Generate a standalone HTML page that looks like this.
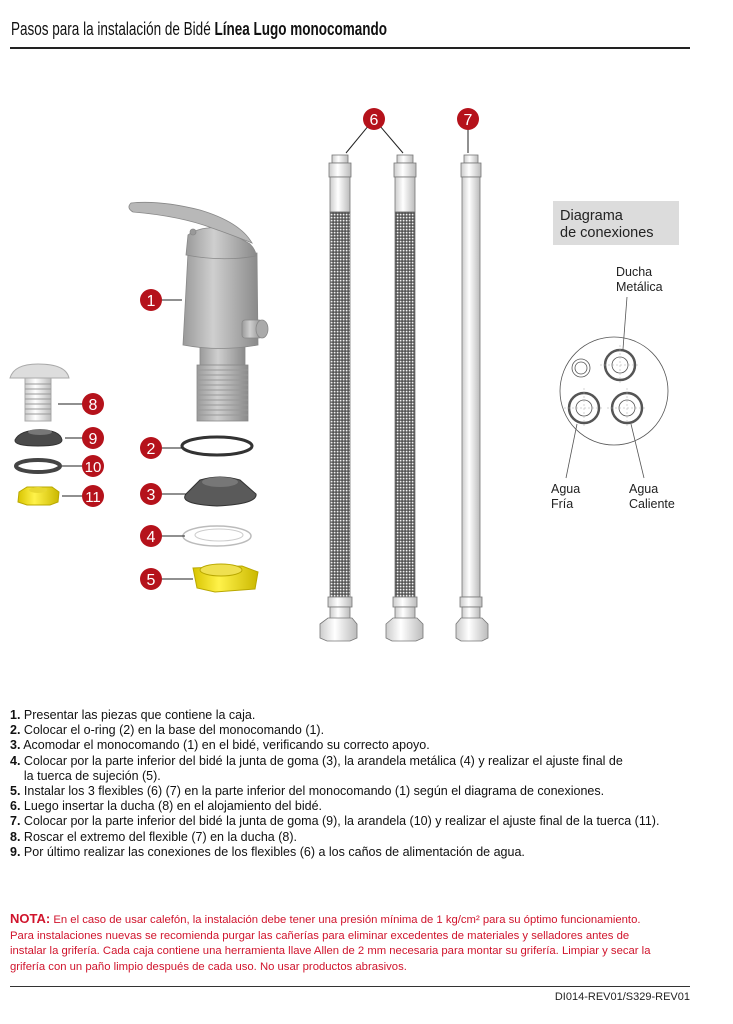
<!DOCTYPE html>
<html><head><meta charset="utf-8"><style>
body{margin:0;width:733px;height:1024px;background:#fff;position:relative;overflow:hidden;font-family:"Liberation Sans",Arial,sans-serif;}
.t{position:absolute;white-space:nowrap;}
#title{left:11px;top:18px;font-size:18.5px;color:#111;transform:scaleX(0.73);transform-origin:0 0}
.hr{position:absolute;left:10px;width:680px;background:#222}
#steps{position:absolute;left:10px;top:708px;font-size:12.5px;line-height:15.2px;color:#111;}
#steps div{white-space:nowrap}
#nota{position:absolute;left:10px;top:911px;font-size:11.3px;line-height:15.5px;color:#d0142c;white-space:nowrap}
#foot{position:absolute;right:43px;top:991px;font-size:11px;color:#222}
svg{position:absolute;left:0;top:0}
</style></head><body>
<div class="t" id="title">Pasos para la instalación de Bidé <b>Línea Lugo monocomando</b></div>
<div class="hr" style="top:47px;height:2px"></div>

<svg width="733" height="700" viewBox="0 0 733 700">
<defs>
<pattern id="mesh" width="3" height="3" patternUnits="userSpaceOnUse">
<rect width="3" height="3" fill="#444"/><rect x="0.7" y="0.7" width="1.8" height="1.8" fill="#f2f2f2"/></pattern>
<linearGradient id="g1" x1="0" x2="1"><stop offset="0" stop-color="#9a9a9a"/><stop offset=".4" stop-color="#cfcfcf"/><stop offset="1" stop-color="#8a8a8a"/></linearGradient>
<linearGradient id="gw" x1="0" x2="1"><stop offset="0" stop-color="#ccc"/><stop offset=".4" stop-color="#fff"/><stop offset="1" stop-color="#bbb"/></linearGradient>
<linearGradient id="gy" x1="0" x2="1"><stop offset="0" stop-color="#d8c400"/><stop offset=".4" stop-color="#fff24a"/><stop offset="1" stop-color="#cbb800"/></linearGradient>
</defs>

<g stroke="#777" stroke-width="0.8">
 <rect x="332" y="155" width="16" height="8" fill="url(#gw)"/>
 <rect x="329" y="163" width="22" height="14" fill="url(#gw)"/>
 <rect x="330" y="177" width="20" height="35" fill="url(#gw)"/>
 <rect x="330" y="212" width="20" height="386" fill="url(#mesh)"/>
 <rect x="328" y="597" width="24" height="10" fill="url(#gw)"/>
 <rect x="330" y="607" width="20" height="12" fill="url(#gw)"/>
 <polygon points="320,624 328,618 352,618 357,624 357,638 350,641 327,641 320,638" fill="url(#gw)"/>
 <rect x="397" y="155" width="16" height="8" fill="url(#gw)"/>
 <rect x="394" y="163" width="22" height="14" fill="url(#gw)"/>
 <rect x="395" y="177" width="20" height="35" fill="url(#gw)"/>
 <rect x="395" y="212" width="20" height="386" fill="url(#mesh)"/>
 <rect x="393" y="597" width="24" height="10" fill="url(#gw)"/>
 <rect x="395" y="607" width="20" height="12" fill="url(#gw)"/>
 <polygon points="386,624 393,618 417,618 423,624 423,638 416,641 392,641 386,638" fill="url(#gw)"/>
 <rect x="464" y="155" width="14" height="8" fill="url(#gw)"/>
 <rect x="461" y="163" width="20" height="14" fill="url(#gw)"/>
 <rect x="462" y="177" width="18" height="420" fill="url(#gw)"/>
 <rect x="460" y="597" width="22" height="10" fill="url(#gw)"/>
 <rect x="462" y="607" width="18" height="12" fill="url(#gw)"/>
 <polygon points="456,624 461,618 482,618 488,624 488,638 482,641 461,641 456,638" fill="url(#gw)"/>
</g>

<g stroke="#888" stroke-width="0.8">
 <rect x="200" y="345" width="45" height="22" fill="url(#g1)"/>
 <rect x="197" y="365" width="51" height="56" fill="url(#g1)"/>
 <g stroke="#999" stroke-width="1">
  <line x1="197" y1="370" x2="248" y2="370"/><line x1="197" y1="375" x2="248" y2="375"/><line x1="197" y1="380" x2="248" y2="380"/><line x1="197" y1="385" x2="248" y2="385"/><line x1="197" y1="390" x2="248" y2="390"/><line x1="197" y1="395" x2="248" y2="395"/><line x1="197" y1="400" x2="248" y2="400"/><line x1="197" y1="405" x2="248" y2="405"/><line x1="197" y1="410" x2="248" y2="410"/><line x1="197" y1="415" x2="248" y2="415"/>
 </g>
 <path d="M188,253 L257,253 L258,345 Q220,352 183,345 Z" fill="url(#g1)"/>
 <rect x="242" y="320" width="20" height="18" rx="3" fill="url(#g1)"/>
 <ellipse cx="262" cy="329" rx="6" ry="9" fill="#aaa"/>
 <path d="M186,255 L188,235 Q200,226 222,228 L250,244 Q256,250 256,256 Q222,262 186,255 Z" fill="url(#g1)"/>
 <path d="M131,203 Q160,200 200,210 Q240,222 252,243 Q235,236 212,228 Q180,216 133,212 Q126,208 131,203 Z" fill="#b8b8b8"/>
 <circle cx="193" cy="232" r="3" fill="#999"/>
</g>

<ellipse cx="217" cy="446" rx="35" ry="9" fill="none" stroke="#333" stroke-width="3"/>
<path d="M200,480 Q220,474 240,480 L256,494 Q258,504 217,506 Q178,504 186,494 Z" fill="#5a5a5a" stroke="#333"/>
<ellipse cx="220" cy="482" rx="18" ry="5" fill="#777"/>
<ellipse cx="217" cy="536" rx="34" ry="10" fill="#fff" stroke="#bbb" stroke-width="1.5"/>
<ellipse cx="219" cy="535" rx="24" ry="6" fill="none" stroke="#ccc"/>
<path d="M193,568 L242,566 L258,572 L255,589 L215,592 L197,588 Z" fill="url(#gy)" stroke="#b9a800"/>
<ellipse cx="221" cy="570" rx="21" ry="6" fill="#efe050" stroke="#b9a800"/>

<path d="M10,378 Q14,364 38,364 Q66,364 69,378 Z" fill="#ddd" stroke="#aaa"/>
<rect x="25" y="378" width="26" height="43" fill="url(#gw)" stroke="#aaa"/>
<g stroke="#999"><line x1="25" y1="384" x2="51" y2="384"/><line x1="25" y1="389" x2="51" y2="389"/><line x1="25" y1="394" x2="51" y2="394"/><line x1="25" y1="399" x2="51" y2="399"/><line x1="25" y1="404" x2="51" y2="404"/><line x1="25" y1="409" x2="51" y2="409"/><line x1="25" y1="414" x2="51" y2="414"/></g>
<path d="M15,440 Q20,430 40,430 Q60,430 62,440 Q62,446 38,446 Q14,446 15,440 Z" fill="#4a4a4a" stroke="#333"/>
<ellipse cx="40" cy="432" rx="12" ry="3" fill="#777"/>
<ellipse cx="38" cy="466" rx="22" ry="6" fill="none" stroke="#444" stroke-width="4"/>
<path d="M19,492 L27,487 L52,487 L59,492 L58,502 L50,505 L27,505 L18,502 Z" fill="url(#gy)" stroke="#b9a800"/>
<ellipse cx="38" cy="490" rx="9" ry="3" fill="#e8d830"/>

<g stroke="#222" stroke-width="1">
 <line x1="151" y1="300" x2="182" y2="300"/>
 <line x1="151" y1="448" x2="182" y2="448"/>
 <line x1="151" y1="494" x2="186" y2="494"/>
 <line x1="151" y1="536" x2="185" y2="536"/>
 <line x1="151" y1="579" x2="193" y2="579"/>
 <line x1="58" y1="404" x2="93" y2="404"/>
 <line x1="65" y1="438" x2="93" y2="438"/>
 <line x1="62" y1="466" x2="93" y2="466"/>
 <line x1="62" y1="496" x2="93" y2="496"/>
 <line x1="374" y1="119" x2="346" y2="153"/>
 <line x1="374" y1="119" x2="403" y2="153"/>
 <line x1="468" y1="119" x2="468" y2="153"/>
</g>
<g fill="#b5121b" font-family="Liberation Sans,Arial,sans-serif" font-size="16" text-anchor="middle">
 <circle cx="151" cy="300" r="11"/><circle cx="151" cy="448" r="11"/><circle cx="151" cy="494" r="11"/><circle cx="151" cy="536" r="11"/><circle cx="151" cy="579" r="11"/>
 <circle cx="93" cy="404" r="11"/><circle cx="93" cy="438" r="11"/><circle cx="93" cy="466" r="11"/><circle cx="93" cy="496" r="11"/>
 <circle cx="374" cy="119" r="11"/><circle cx="468" cy="119" r="11"/>
 <g fill="#fff">
 <text x="151" y="306">1</text><text x="151" y="454">2</text><text x="151" y="500">3</text><text x="151" y="542">4</text><text x="151" y="585">5</text>
 <text x="93" y="410">8</text><text x="93" y="444">9</text><text x="93" y="472" font-size="15">10</text><text x="93" y="502" font-size="15">11</text>
 <text x="374" y="125">6</text><text x="468" y="125">7</text>
 </g>
</g>

<rect x="553" y="201" width="126" height="44" fill="#dcdcdc"/>
<g font-family="Liberation Sans,Arial,sans-serif" font-size="14.5" fill="#222">
 <text x="560" y="220">Diagrama</text><text x="560" y="237">de conexiones</text>
</g>
<g font-family="Liberation Sans,Arial,sans-serif" font-size="12.5" fill="#222">
 <text x="616" y="276">Ducha</text><text x="616" y="291">Metálica</text>
 <text x="551" y="493">Agua</text><text x="551" y="508">Fría</text>
 <text x="629" y="493">Agua</text><text x="629" y="508">Caliente</text>
</g>
<g fill="none" stroke="#555" stroke-width="0.8">
 <circle cx="614" cy="391" r="54"/>
 <circle cx="581" cy="368" r="9"/><circle cx="581" cy="368" r="6"/>
 <circle cx="620" cy="365" r="15" stroke-width="2.5"/><circle cx="620" cy="365" r="8"/>
 <circle cx="584" cy="408" r="15" stroke-width="2.5"/><circle cx="584" cy="408" r="8"/>
 <circle cx="627" cy="408" r="15" stroke-width="2.5"/><circle cx="627" cy="408" r="8"/>
 <line x1="627" y1="297" x2="623" y2="349"/>
 <line x1="577" y1="424" x2="566" y2="478"/>
 <line x1="631" y1="424" x2="644" y2="478"/>
</g>
<g stroke="#aaa" stroke-width="0.5" stroke-dasharray="2,2">
 <line x1="600" y1="365" x2="640" y2="365"/><line x1="620" y1="345" x2="620" y2="385"/>
 <line x1="564" y1="408" x2="604" y2="408"/><line x1="584" y1="388" x2="584" y2="428"/>
 <line x1="607" y1="408" x2="647" y2="408"/><line x1="627" y1="388" x2="627" y2="428"/>
</g>
</svg>

<div id="steps">
<div><b>1.</b> Presentar las piezas que contiene la caja.</div>
<div><b>2.</b> Colocar el o-ring (2) en la base del monocomando (1).</div>
<div><b>3.</b> Acomodar el monocomando (1) en el bidé, verificando su correcto apoyo.</div>
<div><b>4.</b> Colocar por la parte inferior del bidé la junta de goma (3), la arandela metálica (4) y realizar el ajuste final de</div>
<div>&nbsp;&nbsp;&nbsp; la tuerca de sujeción (5).</div>
<div><b>5.</b> Instalar los 3 flexibles (6) (7) en la parte inferior del monocomando (1) según el diagrama de conexiones.</div>
<div><b>6.</b> Luego insertar la ducha (8) en el alojamiento del bidé.</div>
<div><b>7.</b> Colocar por la parte inferior del bidé la junta de goma (9), la arandela (10) y realizar el ajuste final de la tuerca (11).</div>
<div><b>8.</b> Roscar el extremo del flexible (7) en la ducha (8).</div>
<div><b>9.</b> Por último realizar las conexiones de los flexibles (6) a los caños de alimentación de agua.</div>
</div>

<div id="nota"><b style="font-size:13px">NOTA:</b> En el caso de usar calefón, la instalación debe tener una presión mínima de 1 kg/cm² para su óptimo funcionamiento.<br>Para instalaciones nuevas se recomienda purgar las cañerías para eliminar excedentes de materiales y selladores antes de<br>instalar la grifería. Cada caja contiene una herramienta llave Allen de 2 mm necesaria para montar su grifería. Limpiar y secar la<br>grifería con un paño limpio después de cada uso. No usar productos abrasivos.</div>

<div class="hr" style="top:986px;height:1px;background:#333"></div>
<div class="t" id="foot">DI014-REV01/S329-REV01</div>
</body></html>
